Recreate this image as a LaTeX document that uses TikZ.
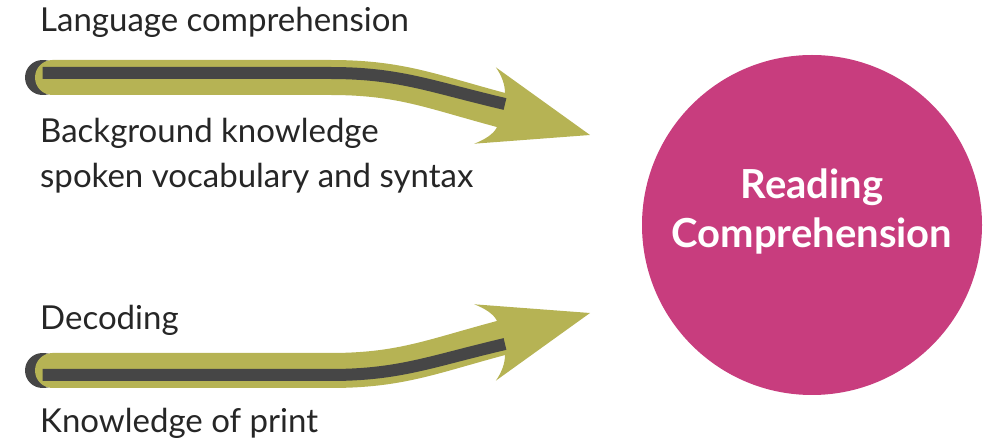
\documentclass[tikz,border=0pt]{standalone}
\usepackage{fontspec}
\setmainfont{Lato}
\definecolor{shaftolive}{HTML}{B6B354}
\definecolor{stripegray}{HTML}{464646}
\definecolor{rcpink}{HTML}{C83D7E}
\definecolor{labelgray}{HTML}{262626}
\begin{document}
\begin{tikzpicture}[x=1pt,y=-1pt,
  label/.style={anchor=base west,inner sep=0pt,text=labelgray,font=\fontsize{33}{38}\selectfont},
  capband/.style={draw=stripegray,line width=35pt,line cap=round},
  band/.style={draw=shaftolive,line width=35pt,line cap=round},
  stripe/.style={draw=stripegray,line width=12pt,line cap=butt},
  headfill/.style={fill=shaftolive},
  rcircle/.style={circle,fill=rcpink,minimum size=340pt,inner sep=0pt},
  rctitle/.style={text=white,align=center,inner sep=0pt,
    font=\bfseries\fontsize{40}{49}\selectfont},
  % curved arrow with a dark stripe along its upper side
  readarrow/.pic={
    \coordinate (-start) at (42.5,77.5);
    \coordinate (-end) at (501,110);
    \coordinate (-tip) at (590,135);
    \draw[capband] (-start) -- ++(1,0);
    \draw[band] (52.5,77.5) -- (330,77.5) .. controls (400,77.5) and (430,91) .. (-end);
    \fill[headfill] (-tip) -- (495.8,67.3)
      .. controls (502,76) and (505,85) .. (505,93) -- (497,127)
      .. controls (494,134) and (484,140) .. (474.2,143.7) -- cycle;
    \draw[stripe] (42.5,73) -- (330,73) .. controls (400,73) and (430,86.5) .. (505,104);
  }]
\useasboundingbox (0,0) rectangle (983,443);

% target circle and its title
\node[rcircle] (rc) at (812,225) {};
\node[rctitle] (rctext) at (812,211) {Reading\\Comprehension};

% labels
\node[label] (lang)   at (40,32)  {Language comprehension};
\node[label] (bg)     at (40,143) {Background knowledge};
\node[label] (spoken) at (40,188) {spoken vocabulary and syntax};
\node[label] (dec)    at (40,330) {Decoding};
\node[label] (print)  at (40,433) {Knowledge of print};

% language comprehension arrow, and decoding arrow as its mirror image
\pic (up) at (0,0) {readarrow};
\pic[yscale=-1] (low) at (0,448) {readarrow};
\end{tikzpicture}
\end{document}
